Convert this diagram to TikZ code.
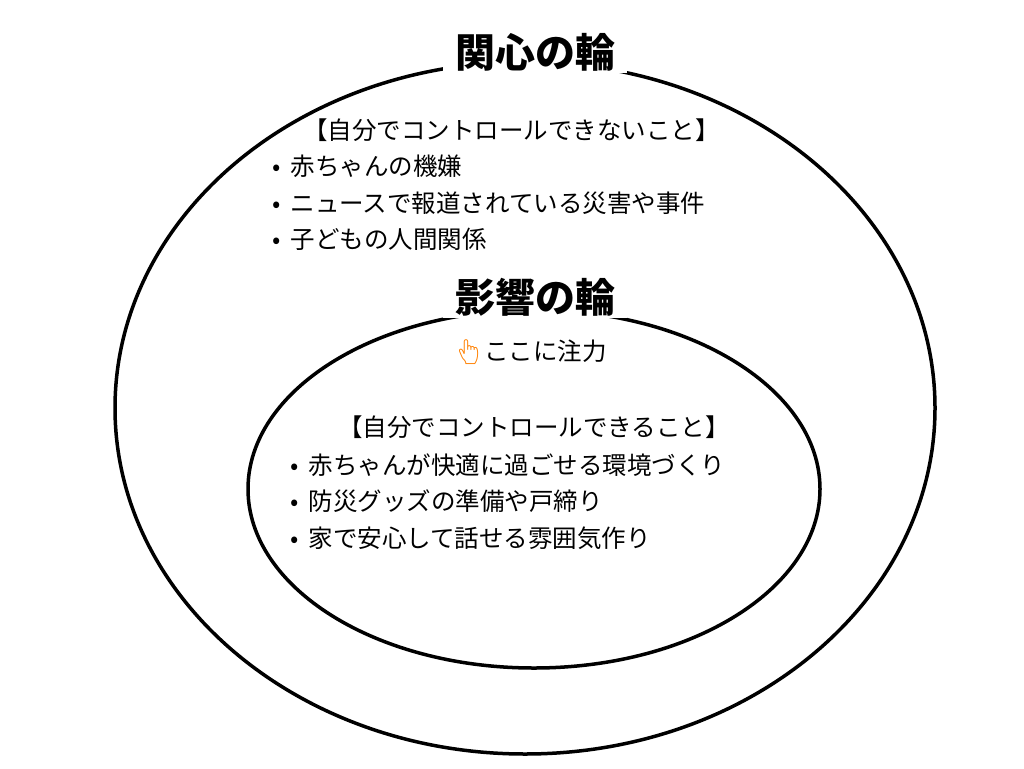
\documentclass[tikz,border=0pt]{standalone}
\usepackage{fontspec}
\setmainfont{Noto Sans CJK JP}
\newfontfamily\emojifont{Noto Emoji}
\usetikzlibrary{positioning}

\tikzset{
  ring/.style={draw, line width=3.5pt},
  ringtitle/.style={fill=white, inner xsep=12pt, inner ysep=2pt, font=\fontsize{40}{46}\selectfont\bfseries},
  itemline/.style={anchor=west, inner sep=0pt, font=\fontsize{24.5}{28}\selectfont},
}

\begin{document}
\begin{tikzpicture}[x=1pt, y=-1pt]
    \useasboundingbox (0,0) rectangle (1024,768);
    % circles
    \draw[ring] (525,408) ellipse [x radius=410, y radius=346];
    \draw[ring] (534,489) ellipse [x radius=286, y radius=179];

    \node[ringtitle] (concern) at (535,52) {関心の輪};
    \node[ringtitle] (influence) at (535,297) {影響の輪};

    % outer ring
    \node[itemline] (outhead) at (303,130) {【自分でコントロールできないこと】};
    \node[itemline] (out1) at (272,166) {•\hspace{10pt}赤ちゃんの機嫌};
    \node[itemline] (out2) at (272,203) {•\hspace{10pt}ニュースで報道されている災害や事件};
    \node[itemline] (out3) at (272,239) {•\hspace{10pt}子どもの人間関係};

    % inner ring
    \node[itemline] (focus) at (453,352) {{\emojifont\color{orange}👆}ここに注力};
    \node[itemline] (inhead) at (338,427) {【自分でコントロールできること】};
    \node[itemline] (in1) at (290,465) {•\hspace{10pt}赤ちゃんが快適に過ごせる環境づくり};
    \node[itemline] (in2) at (290,501) {•\hspace{10pt}防災グッズの準備や戸締り};
    \node[itemline] (in3) at (290,538) {•\hspace{10pt}家で安心して話せる雰囲気作り};
\end{tikzpicture}
\end{document}
